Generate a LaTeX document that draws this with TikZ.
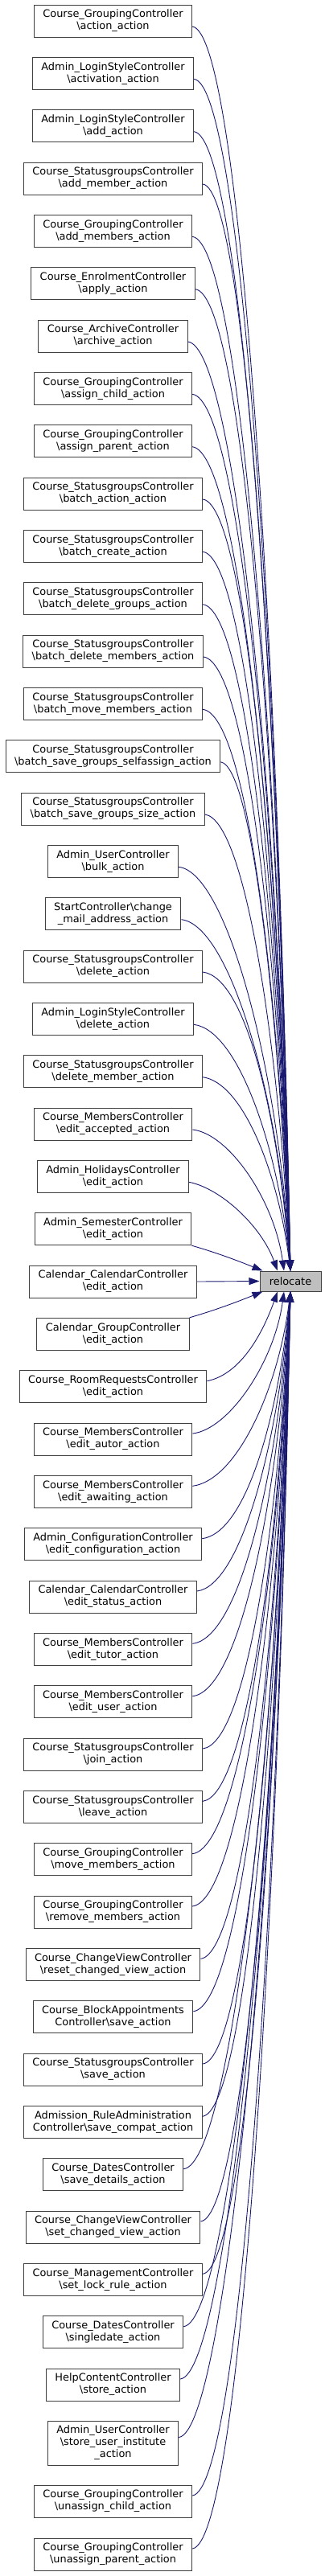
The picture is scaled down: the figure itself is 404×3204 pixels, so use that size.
\documentclass[tikz,border=0pt]{standalone}
\usepackage{fontspec}
\setmainfont{DejaVu Sans}
\usetikzlibrary{arrows.meta}
\definecolor{edgeblue}{RGB}{25,25,112}
\newcommand{\bsl}{\textbackslash}

\begin{document}
\begin{tikzpicture}[
  x=1pt,y=1pt,
  font=\fontsize{12.9}{15}\selectfont,
  caller/.style={draw=black!75,line width=1pt,fill=white,minimum height=40pt,inner xsep=11pt,inner ysep=2pt,align=center},
  callee/.style={draw=black!75,line width=1pt,fill=black!25,minimum width=76pt,minimum height=25pt,inner sep=0pt},
  arr/.style={-{Triangle[length=13pt,width=9pt]},draw=edgeblue,line width=0.9pt}
]
\useasboundingbox (0,0) rectangle (404,-3204);

\node[callee] (rel) at (361,-1593.5) {relocate};

% callers, top to bottom
\node[caller] (gact) at (140.5,-26) {Course\_GroupingController\\\bsl action\_action};
\node[caller] (lsact) at (140.5,-91.3) {Admin\_LoginStyleController\\\bsl activation\_action};
\node[caller] (lsadd) at (140.5,-156.7) {Admin\_LoginStyleController\\\bsl add\_action};
\node[caller] (sgaddm) at (140.5,-222) {Course\_StatusgroupsController\\\bsl add\_member\_action};
\node[caller] (gaddm) at (140.5,-287.3) {Course\_GroupingController\\\bsl add\_members\_action};
\node[caller] (enapply) at (140.5,-352.7) {Course\_EnrolmentController\\\bsl apply\_action};
\node[caller] (archive) at (140.5,-418) {Course\_ArchiveController\\\bsl archive\_action};
\node[caller] (gchild) at (140.5,-483.3) {Course\_GroupingController\\\bsl assign\_child\_action};
\node[caller] (gparent) at (140.5,-548.7) {Course\_GroupingController\\\bsl assign\_parent\_action};
\node[caller] (sgbact) at (140.5,-614) {Course\_StatusgroupsController\\\bsl batch\_action\_action};
\node[caller] (sgbcreate) at (140.5,-679.3) {Course\_StatusgroupsController\\\bsl batch\_create\_action};
\node[caller] (sgbdelg) at (140.5,-744.7) {Course\_StatusgroupsController\\\bsl batch\_delete\_groups\_action};
\node[caller] (sgbdelm) at (140.5,-810) {Course\_StatusgroupsController\\\bsl batch\_delete\_members\_action};
\node[caller] (sgbmove) at (140.5,-875.3) {Course\_StatusgroupsController\\\bsl batch\_move\_members\_action};
\node[caller] (sgbself) at (140.5,-940.7) {Course\_StatusgroupsController\\\bsl batch\_save\_groups\_selfassign\_action};
\node[caller] (sgbsize) at (140.5,-1006) {Course\_StatusgroupsController\\\bsl batch\_save\_groups\_size\_action};
\node[caller] (usbulk) at (140.5,-1071.3) {Admin\_UserController\\\bsl bulk\_action};
\node[caller] (stmail) at (140.5,-1136.7) {StartController\bsl change\\\_mail\_address\_action};
\node[caller] (sgdel) at (140.5,-1202) {Course\_StatusgroupsController\\\bsl delete\_action};
\node[caller] (lsdel) at (140.5,-1267.3) {Admin\_LoginStyleController\\\bsl delete\_action};
\node[caller] (sgdelm) at (140.5,-1332.7) {Course\_StatusgroupsController\\\bsl delete\_member\_action};
\node[caller] (mbacc) at (140.5,-1398) {Course\_MembersController\\\bsl edit\_accepted\_action};
\node[caller] (hoedit) at (140.5,-1463.3) {Admin\_HolidaysController\\\bsl edit\_action};
\node[caller] (seedit) at (140.5,-1528.7) {Admin\_SemesterController\\\bsl edit\_action};
\node[caller] (caedit) at (140.5,-1594) {Calendar\_CalendarController\\\bsl edit\_action};
\node[caller] (cgedit) at (140.5,-1659.3) {Calendar\_GroupController\\\bsl edit\_action};
\node[caller] (rredit) at (140.5,-1724.7) {Course\_RoomRequestsController\\\bsl edit\_action};
\node[caller] (mbautor) at (140.5,-1790) {Course\_MembersController\\\bsl edit\_autor\_action};
\node[caller] (mbawait) at (140.5,-1855.3) {Course\_MembersController\\\bsl edit\_awaiting\_action};
\node[caller] (cfedit) at (140.5,-1920.7) {Admin\_ConfigurationController\\\bsl edit\_configuration\_action};
\node[caller] (castatus) at (140.5,-1986) {Calendar\_CalendarController\\\bsl edit\_status\_action};
\node[caller] (mbtutor) at (140.5,-2051.3) {Course\_MembersController\\\bsl edit\_tutor\_action};
\node[caller] (mbuser) at (140.5,-2116.7) {Course\_MembersController\\\bsl edit\_user\_action};
\node[caller] (sgjoin) at (140.5,-2182) {Course\_StatusgroupsController\\\bsl join\_action};
\node[caller] (sgleave) at (140.5,-2247.3) {Course\_StatusgroupsController\\\bsl leave\_action};
\node[caller] (gmove) at (140.5,-2312.7) {Course\_GroupingController\\\bsl move\_members\_action};
\node[caller] (gremove) at (140.5,-2378) {Course\_GroupingController\\\bsl remove\_members\_action};
\node[caller] (cvreset) at (140.5,-2443.3) {Course\_ChangeViewController\\\bsl reset\_changed\_view\_action};
\node[caller] (basave) at (140.5,-2508.7) {Course\_BlockAppointments\\Controller\bsl save\_action};
\node[caller] (sgsave) at (140.5,-2574) {Course\_StatusgroupsController\\\bsl save\_action};
\node[caller] (racompat) at (140.5,-2639.3) {Admission\_RuleAdministration\\Controller\bsl save\_compat\_action};
\node[caller] (dtdetails) at (140.5,-2704.7) {Course\_DatesController\\\bsl save\_details\_action};
\node[caller] (cvset) at (140.5,-2770) {Course\_ChangeViewController\\\bsl set\_changed\_view\_action};
\node[caller] (mglock) at (140.5,-2835.3) {Course\_ManagementController\\\bsl set\_lock\_rule\_action};
\node[caller] (dtsingle) at (140.5,-2900.7) {Course\_DatesController\\\bsl singledate\_action};
\node[caller] (hcstore) at (140.5,-2966) {HelpContentController\\\bsl store\_action};
\node[caller,minimum height=55pt] (usinst) at (140.5,-3038.5) {Admin\_UserController\\\bsl store\_user\_institute\\\_action};
\node[caller] (gunchild) at (140.5,-3111) {Course\_GroupingController\\\bsl unassign\_child\_action};
\node[caller] (gunparent) at (140.5,-3177) {Course\_GroupingController\\\bsl unassign\_parent\_action};

% calls from above
\draw[arr] ([yshift=-7]gact.east) .. controls +(60,-7) and +(-15,774) .. (rel.north);
\draw[arr] ([yshift=-7]lsact.east) .. controls +(60,-7) and +(-15,741) .. (rel.north);
\draw[arr] ([yshift=-7]lsadd.east) .. controls +(60,-7) and +(-15,708) .. (rel.north);
\draw[arr] ([yshift=-7]sgaddm.east) .. controls +(55,-7) and +(-15,676) .. (rel.north);
\draw[arr] ([yshift=-7]gaddm.east) .. controls +(60,-7) and +(-15,643) .. (rel.north);
\draw[arr] ([yshift=-7]enapply.east) .. controls +(60,-7) and +(-15,611) .. (rel.north);
\draw[arr] ([yshift=-7]archive.east) .. controls +(60,-7) and +(-15,578) .. (rel.north);
\draw[arr] ([yshift=-7]gchild.east) .. controls +(60,-7) and +(-15,545) .. (rel.north);
\draw[arr] ([yshift=-7]gparent.east) .. controls +(60,-7) and +(-15,513) .. (rel.north);
\draw[arr] ([yshift=-7]sgbact.east) .. controls +(55,-7) and +(-15,480) .. (rel.north);
\draw[arr] ([yshift=-7]sgbcreate.east) .. controls +(55,-7) and +(-15,447) .. (rel.north);
\draw[arr] ([yshift=-7]sgbdelg.east) .. controls +(55,-7) and +(-15,415) .. (rel.north);
\draw[arr] ([yshift=-7]sgbdelm.east) .. controls +(55,-7) and +(-15,382) .. (rel.north);
\draw[arr] ([yshift=-7]sgbmove.east) .. controls +(55,-7) and +(-15,349) .. (rel.north);
\draw[arr] ([yshift=-7]sgbself.east) .. controls +(40,-7) and +(-15,317) .. (rel.north);
\draw[arr] ([yshift=-7]sgbsize.east) .. controls +(50,-7) and +(-15,284) .. (rel.north);
\draw[arr] ([yshift=-7]usbulk.east) .. controls +(60,-7) and +(-15,251) .. (rel.north);
\draw[arr] ([yshift=-7]stmail.east) .. controls +(60,-7) and +(-15,219) .. (rel.north);
\draw[arr] ([yshift=-7]sgdel.east) .. controls +(55,-7) and +(-15,186) .. (rel.north);
\draw[arr] ([yshift=-7]lsdel.east) .. controls +(55,-7) and +(-15,153) .. (rel.north);
\draw[arr] ([yshift=-7]sgdelm.east) .. controls +(50,-7) and +(-15,121) .. (rel.north);
\draw[arr] ([yshift=-7]mbacc.east) .. controls +(45,-5) and +(-12,88) .. ([xshift=-8]rel.north);
\draw[arr] ([yshift=-7]hoedit.east) .. controls +(40,-8) and +(-20,55) .. ([xshift=-16]rel.north);
\draw[arr] (seedit.south east) .. controls +(35,-10) and +(-25,10) .. ([xshift=4]rel.north west);

\draw[arr] (caedit.east) -- (rel.west);

% calls from below
\draw[arr] (cgedit.north east) .. controls +(35,10) and +(-25,-10) .. ([xshift=4]rel.south west);
\draw[arr] ([yshift=7]rredit.east) .. controls +(40,8) and +(-20,-56) .. ([xshift=-16]rel.south);
\draw[arr] ([yshift=7]mbautor.east) .. controls +(45,5) and +(-12,-88) .. ([xshift=-8]rel.south);
\draw[arr] ([yshift=7]mbawait.east) .. controls +(55,7) and +(-15,-121) .. (rel.south);
\draw[arr] ([yshift=7]cfedit.east) .. controls +(55,7) and +(-15,-154) .. (rel.south);
\draw[arr] ([yshift=7]castatus.east) .. controls +(55,7) and +(-15,-186) .. (rel.south);
\draw[arr] ([yshift=7]mbtutor.east) .. controls +(60,7) and +(-15,-219) .. (rel.south);
\draw[arr] ([yshift=7]mbuser.east) .. controls +(60,7) and +(-15,-252) .. (rel.south);
\draw[arr] ([yshift=7]sgjoin.east) .. controls +(55,7) and +(-15,-284) .. (rel.south);
\draw[arr] ([yshift=7]sgleave.east) .. controls +(55,7) and +(-15,-317) .. (rel.south);
\draw[arr] ([yshift=7]gmove.east) .. controls +(60,7) and +(-15,-350) .. (rel.south);
\draw[arr] ([yshift=7]gremove.east) .. controls +(60,7) and +(-15,-382) .. (rel.south);
\draw[arr] ([yshift=7]cvreset.east) .. controls +(55,7) and +(-15,-415) .. (rel.south);
\draw[arr] ([yshift=7]basave.east) .. controls +(60,7) and +(-15,-448) .. (rel.south);
\draw[arr] ([yshift=7]sgsave.east) .. controls +(55,7) and +(-15,-480) .. (rel.south);
\draw[arr] ([yshift=7]racompat.east) .. controls +(55,7) and +(-15,-513) .. (rel.south);
\draw[arr] ([yshift=7]dtdetails.east) .. controls +(60,7) and +(-15,-546) .. (rel.south);
\draw[arr] ([yshift=7]cvset.east) .. controls +(55,7) and +(-15,-578) .. (rel.south);
\draw[arr] ([yshift=7]mglock.east) .. controls +(55,7) and +(-15,-611) .. (rel.south);
\draw[arr] ([yshift=7]dtsingle.east) .. controls +(60,7) and +(-15,-644) .. (rel.south);
\draw[arr] ([yshift=7]hcstore.east) .. controls +(60,7) and +(-15,-676) .. (rel.south);
\draw[arr] ([yshift=7]usinst.east) .. controls +(60,7) and +(-15,-713) .. (rel.south);
\draw[arr] ([yshift=7]gunchild.east) .. controls +(60,7) and +(-15,-749) .. (rel.south);
\draw[arr] ([yshift=7]gunparent.east) .. controls +(60,7) and +(-15,-782) .. (rel.south);
\end{tikzpicture}
\end{document}
